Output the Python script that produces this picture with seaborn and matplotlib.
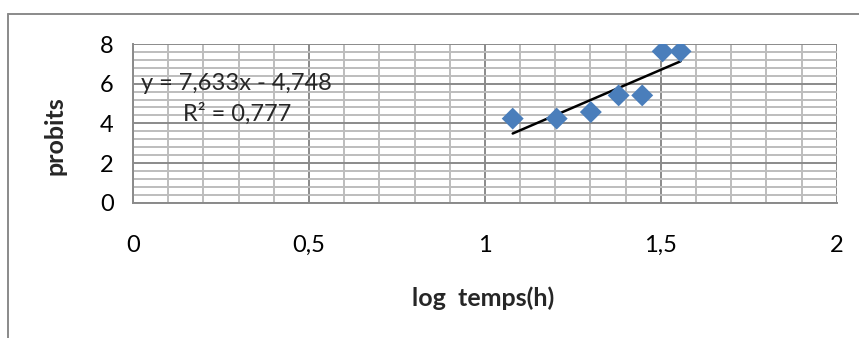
import numpy as np
import pandas as pd
import matplotlib
matplotlib.use("Agg")
import matplotlib.pyplot as plt
from matplotlib.lines import Line2D
from matplotlib.ticker import FixedLocator, FixedFormatter, MultipleLocator
import seaborn as sns

# Observations: log of exposure time (h) and corresponding probit values
log_temps = [1.079, 1.204, 1.301, 1.380, 1.447, 1.505, 1.556]
probits = [4.24, 4.24, 4.57, 5.41, 5.41, 7.63, 7.63]

# Linear trend reported on the chart
slope = 7.633
intercept = -4.748
r_squared = 0.777

xtick_values = [0, 0.5, 1, 1.5, 2]
xtick_labels = ["0", "0,5", "1", "1,5", "2"]
ytick_values = [0, 2, 4, 6, 8]
ytick_labels = ["0", "2", "4", "6", "8"]

sns.set_theme(style="white")
plt.rcParams["font.family"] = ["Lato", "DejaVu Sans"]

fig = plt.figure(figsize=(8.59, 3.38), dpi=100)
ax = fig.add_axes([0.1548, 0.4003, 0.8194, 0.4695])

df = pd.DataFrame({"log temps(h)": log_temps, "probits": probits})

ax.set_xlim(0, 2)
ax.set_ylim(0, 8)

# Grid: major every 0.5 / 2, minor every 0.1 / 0.4
ax.xaxis.set_major_locator(FixedLocator(xtick_values))
ax.xaxis.set_major_formatter(FixedFormatter(xtick_labels))
ax.yaxis.set_major_locator(FixedLocator(ytick_values))
ax.yaxis.set_major_formatter(FixedFormatter(ytick_labels))
ax.xaxis.set_minor_locator(MultipleLocator(0.1))
ax.yaxis.set_minor_locator(MultipleLocator(0.4))
ax.grid(which="minor", color="#bdbdbd", linewidth=1.4)
ax.grid(which="major", color="#8a8a8a", linewidth=1.4)
ax.set_axisbelow(True)

for side in ["top", "right"]:
    ax.spines[side].set_visible(False)
for side in ["left", "bottom"]:
    ax.spines[side].set_color("#8a8a8a")
    ax.spines[side].set_linewidth(1.4)

ax.tick_params(which="major", axis="both", direction="out", length=6,
               width=1.4, color="#8a8a8a", labelsize=17, labelcolor="black")
ax.tick_params(which="minor", length=0)
ax.tick_params(axis="x", pad=17)
ax.tick_params(axis="y", pad=8)

# Trend line over the data range
x_line = np.array([min(log_temps), max(log_temps)])
ax.plot(x_line, slope * x_line + intercept, color="black", linewidth=1.8, zorder=3)

sns.scatterplot(data=df, x="log temps(h)", y="probits", ax=ax, marker="D",
                s=125, color="#4a7ebb", edgecolor="none", linewidth=0, zorder=4,
                legend=False)

ax.set_xlabel("log  temps(h)", fontsize=18, fontweight="bold")
ax.set_ylabel("probits", fontsize=18, fontweight="bold")
ax.xaxis.set_label_coords(0.497, -0.60)
ax.xaxis.label.set_va("center")
ax.yaxis.set_label_coords(-0.111, 0.42)
ax.yaxis.label.set_va("center")

# Trend-line equation and coefficient of determination
ax.text(0.293, 6.03, f"y = {slope:.3f}x - {abs(intercept):.3f}".replace(".", ","),
        fontsize=17, ha="center", va="center", zorder=5)
ax.text(0.296, 4.47, f"R² = {r_squared:.3f}".replace(".", ","),
        fontsize=17, ha="center", va="center", zorder=5)

# Outer chart frame (top and left edges)
fig.add_artist(Line2D([8 / 859, 1.0], [1 - 14 / 338, 1 - 14 / 338],
                      transform=fig.transFigure, color="#8a8a8a", linewidth=1.4))
fig.add_artist(Line2D([8 / 859, 8 / 859], [0.0, 1 - 14 / 338],
                      transform=fig.transFigure, color="#8a8a8a", linewidth=1.4))

fig.savefig("out.png", dpi=100)
